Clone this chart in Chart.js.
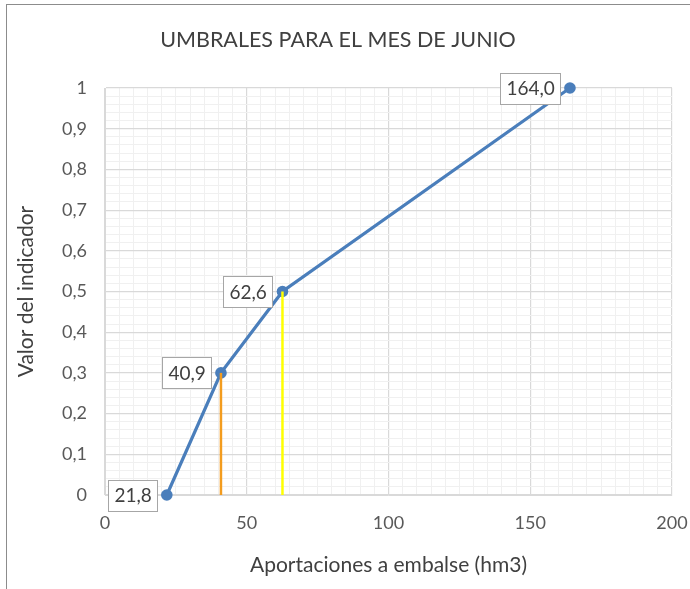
<!DOCTYPE html>
<html lang="es">
<head>
    <meta charset="UTF-8">
    <title>Umbrales junio</title>
    <script src="https://cdn.jsdelivr.net/npm/chart.js"></script>
    <style>
        body { margin: 0; background: #fff; }
        .wrap { position: relative; width: 690px; height: 589px; overflow: hidden; }
        .marco { position: absolute; left: 6px; top: 4px; width: 800px; height: 800px; border-left: 1px solid #8c8c8c; border-top: 1px solid #8c8c8c; }
        canvas { position: absolute; left: 0; top: 0; }
    </style>
</head>
<body>
    <div class="wrap">
        <div class="marco"></div>
        <canvas id="grafico" width="690" height="589"></canvas>
    </div>

    <script>
        // datos
        const aportaciones = [21.8, 40.9, 62.6, 164.0];
        const indicador = [0, 0.3, 0.5, 1];
        const etiquetas = ['21,8', '40,9', '62,6', '164,0'];
        const umbralNaranja = [40.9, 0.3];
        const umbralAmarillo = [62.6, 0.5];

        const fuente = 'Lato, "Open Sans", sans-serif';
        const gris = '#595959';

        const fmt = v => String(Number(v.toFixed(1))).replace('.', ',');

        // cajas con las etiquetas a la izquierda de cada punto
        const etiquetasPlugin = {
            id: 'etiquetas',
            afterDatasetsDraw(chart) {
                const meta = chart.getDatasetMeta(2);
                const ctx = chart.ctx;
                ctx.save();
                ctx.font = '19px ' + fuente;
                ctx.textBaseline = 'middle';
                meta.data.forEach((p, i) => {
                    const txt = etiquetas[i];
                    const w = Math.round(ctx.measureText(txt).width + 12);
                    const h = 31;
                    const x = Math.round(p.x - 10 - w);
                    const y = Math.round(p.y - h / 2);
                    ctx.fillStyle = '#fff';
                    ctx.fillRect(x, y, w, h);
                    ctx.strokeStyle = '#a6a6a6';
                    ctx.lineWidth = 1;
                    ctx.strokeRect(x + 0.5, y + 0.5, w, h);
                    ctx.fillStyle = '#404040';
                    ctx.fillText(txt, x + 6.5, p.y + 1);
                });
                ctx.restore();
            }
        };

        const tituloPlugin = {
            id: 'tituloExcel',
            afterDraw(chart) {
                const ctx = chart.ctx;
                ctx.save();
                ctx.font = '21.5px ' + fuente;
                ctx.fillStyle = '#404040';
                ctx.textAlign = 'center';
                ctx.textBaseline = 'middle';
                ctx.fillText('UMBRALES PARA EL MES DE JUNIO', 338, 40);
                ctx.restore();
            }
        };

        new Chart(document.getElementById('grafico'), {
            type: 'scatter',
            data: {
                datasets: [
                    {
                        data: [{ x: umbralNaranja[0], y: 0 }, { x: umbralNaranja[0], y: umbralNaranja[1] }],
                        showLine: true, borderColor: '#F39C1E', borderWidth: 2.5, pointRadius: 0
                    },
                    {
                        data: [{ x: umbralAmarillo[0], y: 0 }, { x: umbralAmarillo[0], y: umbralAmarillo[1] }],
                        showLine: true, borderColor: '#FFFF00', borderWidth: 2.5, pointRadius: 0
                    },
                    {
                        data: aportaciones.map((x, i) => ({ x: x, y: indicador[i] })),
                        showLine: true, clip: false, borderColor: '#4A7EBB', backgroundColor: '#4A7EBB',
                        borderWidth: 3.2, pointRadius: 5.8, pointBackgroundColor: '#4A7EBB', pointBorderWidth: 0
                    }
                ]
            },
            options: {
                responsive: false,
                animation: false,
                layout: { padding: { top: 88, right: 18, left: 0, bottom: 0 } },
                plugins: { legend: { display: false }, tooltip: { enabled: false } },
                scales: {
                    x: {
                        type: 'linear', min: 0, max: 200,
                        afterFit: s => { s.height = 94; s.paddingLeft = 0; s.paddingRight = 0; },
                        ticks: {
                            stepSize: 5, autoSkip: false, maxRotation: 0, padding: 17,
                            color: gris, font: { family: fuente, size: 18 },
                            callback: v => (v % 50 === 0 ? String(v) : '')
                        },
                        grid: {
                            drawTicks: false,
                            color: c => (c.tick && c.tick.value % 50 === 0 ? '#d9d9d9' : '#f0f0f0'),
                            lineWidth: c => (c.tick && c.tick.value % 50 === 0 ? 1.2 : 1)
                        },
                        border: { color: '#d9d9d9' },
                        title: {
                            display: true, text: 'Aportaciones a embalse (hm3)',
                            color: '#404040', font: { family: fuente, size: 21 }, padding: { top: 0, bottom: 11 }
                        }
                    },
                    y: {
                        min: 0, max: 1,
                        afterFit: s => { s.width = 105; s.paddingTop = 0; s.paddingBottom = 0; },
                        ticks: {
                            stepSize: 0.02, autoSkip: false, padding: 18,
                            color: gris, font: { family: fuente, size: 18 },
                            callback: v => (Math.round(v * 100) % 10 === 0 ? fmt(v) : '')
                        },
                        grid: {
                            drawTicks: false,
                            color: c => (c.tick && Math.round(c.tick.value * 100) % 10 === 0 ? '#d9d9d9' : '#f0f0f0'),
                            lineWidth: c => (c.tick && Math.round(c.tick.value * 100) % 10 === 0 ? 1.2 : 1)
                        },
                        border: { color: '#d9d9d9' },
                        title: {
                            display: true, text: 'Valor del indicador',
                            color: '#404040', font: { family: fuente, size: 21 }, padding: { top: 14, bottom: 0 }
                        }
                    }
                }
            },
            plugins: [etiquetasPlugin, tituloPlugin]
        });
    </script>
</body>
</html>
